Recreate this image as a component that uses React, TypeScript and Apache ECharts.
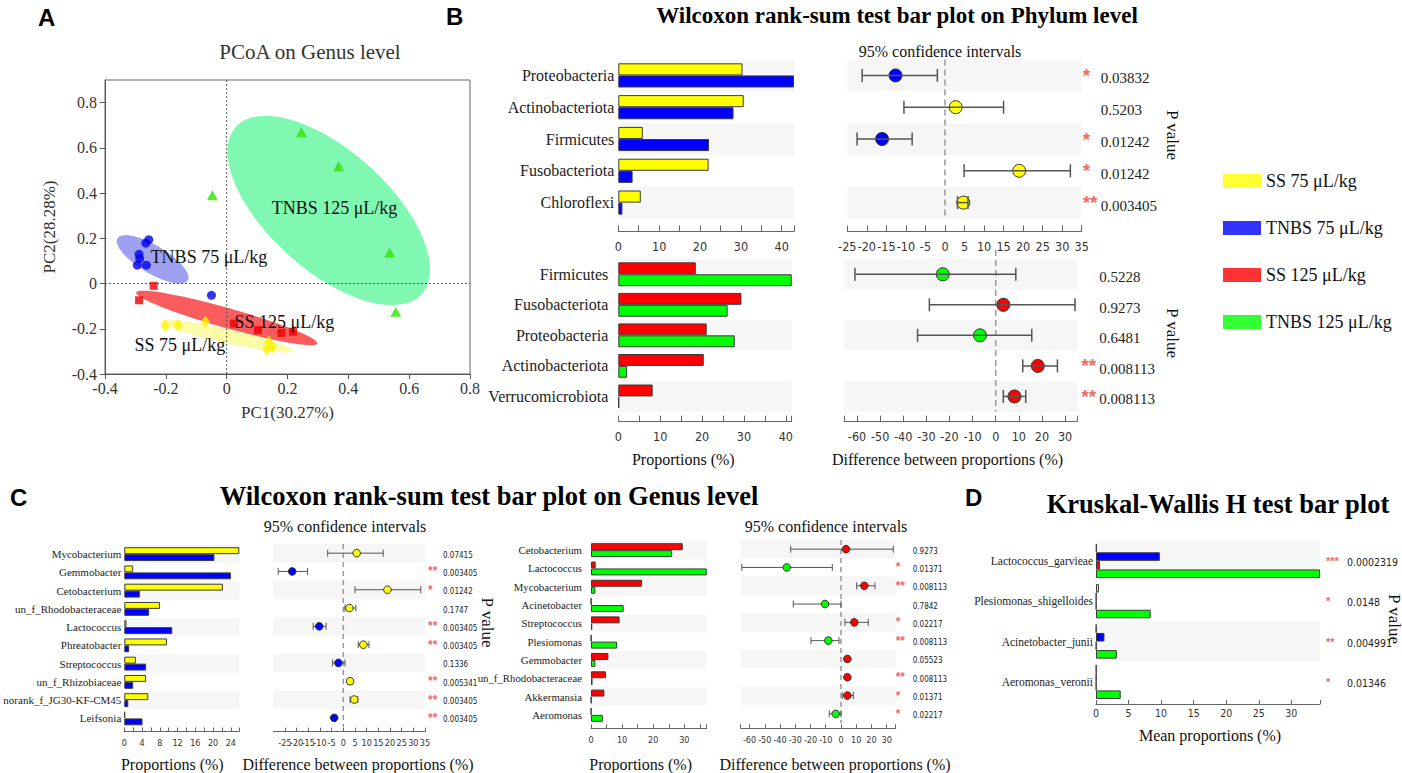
import React, { useEffect, useRef } from "react";
import * as echarts from "echarts";

const GROUPS = ["SS 75 μL/kg", "TNBS 75 μL/kg", "SS 125 μL/kg", "TNBS 125 μL/kg"];
const BAR_COLORS = ["#FFFF00", "#0000FF", "#FF0000", "#00FF00"];
const POINT_COLORS = ["#FFF200", "#0000EE", "#EE0000", "#2EE600"];
const ELLIPSE_COLORS = ["#FCFCA8", "#A0A0F2", "#F95C5C", "#80F8B2"];
const STAR_COLOR = "#F06A6A";
const BAND = "#F6F6F6";
const SERIF = "'Liberation Serif', 'Times New Roman', 'DejaVu Serif', serif";
const SANS = "'Liberation Sans', Arial, 'DejaVu Sans', sans-serif";
const NARROW = "'Liberation Sans Narrow', 'Arial Narrow', 'DejaVu Sans Condensed', 'Liberation Sans', sans-serif";

// ---------- Panel A: PCoA ----------
const pcoaSS75 = [[-0.202, -0.188], [-0.16, -0.184], [-0.07, -0.169], [0.139, -0.258], [0.131, -0.29], [0.15, -0.282]];
const pcoaTNBS75 = [[-0.256, 0.194], [-0.266, 0.179], [-0.288, 0.129], [-0.286, 0.11], [-0.294, 0.081], [-0.264, 0.081], [-0.05, -0.052]];
const pcoaSS125 = [[-0.24, -0.01], [-0.288, -0.074], [0.024, -0.177], [0.103, -0.206], [0.18, -0.218], [0.218, -0.213]];
const pcoaTNBS125 = [[0.246, 0.669], [0.368, 0.519], [0.536, 0.137], [0.556, -0.125], [-0.047, 0.39]];
// ellipse: centre x, centre y, semi-axis U (x,y), semi-axis V (x,y), group
const ellipseTNBS125 = [0.3355, 0.323, 0.3056, -0.369, -0.132, -0.197, 3];
const ellipseTNBS75 = [-0.2434, 0.107, 0.1155, -0.0931, -0.0237, -0.0529, 1];
const ellipseSS125 = [0, -0.152, 0.2974, -0.1129, -0.0089, -0.0424, 2];
const ellipseSS75 = [0, -0.232, 0.2181, -0.0659, -0.0051, -0.0301, 0];
const pcoaLabelText = ["TNBS 125 μL/kg", "TNBS 75 μL/kg", "SS 125 μL/kg", "SS 75 μL/kg"];
const pcoaLabelPos = [[0.148, 0.332], [-0.25, 0.116], [0.026, -0.171], [-0.303, -0.272]];
const pcoaTicksX = [-0.4, -0.2, 0, 0.2, 0.4, 0.6, 0.8];
const pcoaTicksY = [-0.4, -0.2, 0, 0.2, 0.4, 0.6, 0.8];

// ---------- Panel B: phylum ----------
const phylaTop = ["Proteobacteria", "Actinobacteriota", "Firmicutes", "Fusobacteriota", "Chloroflexi"];
const phylaTopSS75 = [30.4, 30.7, 6.0, 22.1, 5.5];
const phylaTopTNBS75 = [43.0, 28.2, 22.2, 3.5, 1.0];
const phylaTopDiff = [-12.65, 2.75, -16.1, 19.0, 4.7];
const phylaTopLow = [-21.2, -10.5, -22.5, 4.9, 3.2];
const phylaTopHigh = [-1.95, 15.0, -8.4, 32.1, 5.9];
const phylaTopP = ["0.03832", "0.5203", "0.01242", "0.01242", "0.003405"];
const phylaTopSig = ["*", "", "*", "*", "**"];

const phylaBot = ["Firmicutes", "Fusobacteriota", "Proteobacteria", "Actinobacteriota", "Verrucomicrobiota"];
const phylaBotSS125 = [18.5, 29.4, 21.1, 20.4, 8.2];
const phylaBotTNBS125 = [41.4, 26.1, 27.8, 2.1, 0.2];
const phylaBotDiff = [-22.9, 3.3, -6.8, 18.2, 8.1];
const phylaBotLow = [-60.9, -28.7, -33.8, 11.7, 3.3];
const phylaBotHigh = [8.7, 34.3, 15.6, 26.7, 13.0];
const phylaBotP = ["0.5228", "0.9273", "0.6481", "0.008113", "0.008113"];
const phylaBotSig = ["", "", "", "**", "**"];

// ---------- Panel C: genus ----------
const genusL = ["Mycobacterium", "Gemmobacter", "Cetobacterium", "un_f_Rhodobacteraceae", "Lactococcus", "Phreatobacter", "Streptococcus", "un_f_Rhizobiaceae", "norank_f_JG30-KF-CM45", "Leifsonia"];
const genusLSS75 = [25.9, 2.0, 22.2, 8.05, 0.5, 9.6, 2.6, 4.9, 5.4, 0.15];
const genusLTNBS75 = [20.3, 24.0, 3.5, 5.6, 10.8, 1.1, 4.9, 2.0, 0.9, 4.1];
const genusLDiff = [5.7, -21.9, 18.9, 2.6, -10.3, 8.6, -2.1, 2.9, 4.7, -3.9];
const genusLLow = [-6.7, -27.9, 5.0, 0.7, -12.9, 6.4, -4.6, 1.9, 2.9, -4.5];
const genusLHigh = [17.1, -15.3, 33.2, 5.4, -7.4, 11.0, 0.7, 4.0, 6.2, -3.3];
const genusLP = ["0.07415", "0.003405", "0.01242", "0.1747", "0.003405", "0.003405", "0.1336", "0.005341", "0.003405", "0.003405"];
const genusLSig = ["", "**", "*", "", "**", "**", "", "**", "**", "**"];

const genusR = ["Cetobacterium", "Lactococcus", "Mycobacterium", "Acinetobacter", "Streptococcus", "Plesiomonas", "Gemmobacter", "un_f_Rhodobacteraceae", "Akkermansia", "Aeromonas"];
const genusRSS125 = [29.5, 1.5, 16.4, 0.1, 9.2, 0.1, 5.6, 4.8, 4.3, 0.05];
const genusRTNBS125 = [26.1, 37.2, 1.4, 10.5, 0.4, 8.4, 1.4, 0.5, 0.1, 3.8];
const genusRDiff = [3.3, -35.6, 15.3, -10.5, 8.7, -8.3, 4.2, 4.2, 4.2, -3.5];
const genusRLow = [-33.0, -65.1, 10.3, -31.3, 2.6, -19.7, 3.5, 3.6, 0.9, -7.7];
const genusRHigh = [34.3, -5.7, 22.3, 0.0, 17.9, -1.3, 5.0, 4.9, 8.1, 0.0];
const genusRP = ["0.9273", "0.01371", "0.008113", "0.7842", "0.02217", "0.008113", "0.05523", "0.008113", "0.01371", "0.02217"];
const genusRSig = ["", "*", "**", "", "*", "**", "", "**", "*", "*"];

// ---------- Panel D: Kruskal-Wallis ----------
const speciesD = ["Lactococcus_garvieae", "Plesiomonas_shigelloides", "Acinetobacter_junii", "Aeromonas_veronii"];
const dSS75 = [0.1, 0.45, 0.05, 0.05];
const dTNBS75 = [9.8, 0.05, 1.3, 0.05];
const dSS125 = [0.6, 0.05, 0.05, 0.05];
const dTNBS125 = [34.4, 8.4, 3.2, 3.8];
const dP = ["0.0002319", "0.0148", "0.004991", "0.01346"];
const dSig = ["***", "*", "**", "*"];

// ---------- tick lists ----------
const tBTopBar = [0, 5, 10, 15, 20, 25, 30, 35, 40, 43];
const lBTopBar = [0, 10, 20, 30, 40];
const tBBotBar = [0, 5, 10, 15, 20, 25, 30, 35, 40, 41.4];
const lBBotBar = [0, 10, 20, 30, 40];
const tBTopCI = [-25, -20, -15, -10, -5, 0, 5, 10, 15, 20, 25, 30, 35];
const tBBotCI = [-65.5, -60, -50, -40, -30, -20, -10, 0, 10, 20, 30, 35.3];
const lBBotCI = [-60, -50, -40, -30, -20, -10, 0, 10, 20, 30];
const tCLBar = [0, 2, 4, 6, 8, 10, 12, 14, 16, 18, 20, 22, 24, 25.9];
const lCLBar = [0, 4, 8, 12, 16, 20, 24];
const tCLCI = [-30, -25, -20, -15, -10, -5, 0, 5, 10, 15, 20, 25, 30, 35];
const tCRBar = [0, 5, 10, 15, 20, 25, 30, 35, 37.2];
const lCRBar = [0, 10, 20, 30];
const tCRCI = [-65.8, -60, -50, -40, -30, -20, -10, 0, 10, 20, 30, 35.9];
const lCRCI = [-60, -50, -40, -30, -20, -10, 0, 10, 20, 30];
const tDBar = [0, 5, 10, 15, 20, 25, 30, 34.4];
const lDBar = [0, 5, 10, 15, 20, 25, 30];

function buildOption() {
  const grid: any[] = [];
  const xAxis: any[] = [];
  const yAxis: any[] = [];
  const series: any[] = [];
  const graphic: any[] = [];

  const txt = (x: number, y: number, text: string, size: number, family: string, extra: any = {}) => {
    graphic.push({
      type: "text",
      x,
      y,
      rotation: extra.rotation || 0,
      silent: true,
      style: {
        text,
        fontSize: size,
        fontFamily: family,
        fontWeight: extra.bold ? "bold" : "normal",
        fill: extra.color || "#111",
        align: extra.align || "center",
        verticalAlign: "middle",
      },
    });
  };

  // ===== Panel A =====
  grid.push({ left: 105, top: 80, width: 365, height: 294, show: true, borderColor: "#666", borderWidth: 1, containLabel: false, outerBoundsMode: "none" });
  const fmt1 = (v: number) => String(Math.round(v * 10) / 10);
  xAxis.push({
    type: "value", gridIndex: 0, min: -0.4, max: 0.8, position: "bottom",
    axisLine: { show: true, onZero: false, lineStyle: { color: "#555" } },
    axisTick: { show: true, length: 5, customValues: pcoaTicksX, lineStyle: { color: "#555" } },
    axisLabel: { customValues: pcoaTicksX, formatter: fmt1, fontFamily: SERIF, fontSize: 16, color: "#333", margin: 6 },
    splitLine: { show: false },
    name: "PC1(30.27%)", nameLocation: "middle", nameGap: 30,
    nameTextStyle: { fontFamily: SERIF, fontSize: 17, color: "#333" },
  });
  yAxis.push({
    type: "value", gridIndex: 0, min: -0.4, max: 0.9,
    axisLine: { show: true, onZero: false, lineStyle: { color: "#555" } },
    axisTick: { show: true, length: 5, customValues: pcoaTicksY, lineStyle: { color: "#555" } },
    axisLabel: { customValues: pcoaTicksY, formatter: fmt1, fontFamily: SERIF, fontSize: 16, color: "#333", margin: 8 },
    splitLine: { show: false },
    name: "PC2(28.28%)", nameLocation: "middle", nameGap: 47, nameRotate: 90,
    nameTextStyle: { fontFamily: SERIF, fontSize: 17, color: "#333" },
  });
  const ellipses = [ellipseTNBS125, ellipseTNBS75, ellipseSS125, ellipseSS75];
  series.push({
    type: "custom", xAxisIndex: 0, yAxisIndex: 0, silent: true, z: 1,
    data: ellipses.map((e) => [e[0], e[1]]),
    encode: { x: 0, y: 1 },
    renderItem: (params: any, api: any) => {
      const e = ellipses[params.dataIndex];
      const pts: number[][] = [];
      for (let k = 0; k < 120; k++) {
        const t = (k / 120) * Math.PI * 2;
        pts.push(api.coord([e[0] + e[2] * Math.cos(t) + e[4] * Math.sin(t), e[1] + e[3] * Math.cos(t) + e[5] * Math.sin(t)]));
      }
      return { type: "polygon", shape: { points: pts }, style: { fill: ELLIPSE_COLORS[e[6]], stroke: "none" } };
    },
  });
  series.push({
    type: "custom", xAxisIndex: 0, yAxisIndex: 0, silent: true, z: 2,
    data: [[0, 0]], encode: { x: 0, y: 1 },
    renderItem: (params: any, api: any) => {
      const c = api.coord([0, 0]);
      const cs = params.coordSys;
      const st = { stroke: "#555", lineWidth: 1, lineDash: [2, 2] };
      return {
        type: "group",
        children: [
          { type: "line", shape: { x1: c[0], y1: cs.y, x2: c[0], y2: cs.y + cs.height }, style: st },
          { type: "line", shape: { x1: cs.x, y1: c[1], x2: cs.x + cs.width, y2: c[1] }, style: st },
        ],
      };
    },
  });
  const pcoaSets = [pcoaSS75, pcoaTNBS75, pcoaSS125, pcoaTNBS125];
  const symbols = ["diamond", "circle", "rect", "triangle"];
  const sizes: any[] = [[9, 13], 9, 8, [11, 10]];
  pcoaSets.forEach((d, g) => {
    series.push({
      type: "scatter", name: GROUPS[g], xAxisIndex: 0, yAxisIndex: 0, data: d, symbol: symbols[g], symbolSize: sizes[g],
      itemStyle: { color: POINT_COLORS[g] }, silent: true, z: 3,
    });
  });
  series.push({
    type: "custom", xAxisIndex: 0, yAxisIndex: 0, silent: true, z: 4,
    data: pcoaLabelPos, encode: { x: 0, y: 1 },
    renderItem: (params: any, api: any) => {
      const c = api.coord([api.value(0), api.value(1)]);
      return { type: "text", x: c[0], y: c[1], style: { text: pcoaLabelText[params.dataIndex], fontSize: 18, fontFamily: SERIF, fill: "#111", align: "left", verticalAlign: "middle" } };
    },
  });

  // ===== helpers =====
  const addBars = (p: any) => {
    const gi = grid.length;
    grid.push({ left: p.left, top: p.top, width: p.width, height: p.height, containLabel: false, outerBoundsMode: "none" });
    const xi = xAxis.length;
    xAxis.push({
      type: "value", gridIndex: gi, min: 0, max: p.max, position: "bottom", offset: p.offset,
      axisLine: { show: true, onZero: false, lineStyle: { color: "#666", width: 1 } },
      axisTick: { show: true, inside: true, length: p.tickLen, customValues: p.ticks, lineStyle: { color: "#666" } },
      axisLabel: { customValues: p.labels, fontFamily: NARROW, fontSize: p.tickFont, color: "#333", margin: p.labelMargin },
      splitLine: { show: false },
    });
    const yi = yAxis.length;
    yAxis.push({
      type: "category", gridIndex: gi, data: p.cats, inverse: true,
      axisLine: { show: false }, axisTick: { show: false },
      axisLabel: { interval: 0, fontFamily: SERIF, fontSize: p.catFont, color: "#222", margin: p.catMargin },
      splitArea: { show: true, interval: 0, areaStyle: { color: [BAND, "rgba(255,255,255,0)"] } },
      splitLine: { show: false },
    });
    p.groups.forEach((g: number, k: number) => {
      series.push({
        type: "bar", name: GROUPS[g], xAxisIndex: xi, yAxisIndex: yi, data: p.values[k], silent: true,
        barGap: "0%", barCategoryGap: p.catGap,
        itemStyle: { color: BAR_COLORS[g], borderColor: "#3a3a3a", borderWidth: 1 },
      });
    });
  };

  const addCI = (p: any) => {
    const gi = grid.length;
    grid.push({ left: p.left, top: p.top, width: p.width, height: p.height, containLabel: false, outerBoundsMode: "none" });
    const xi = xAxis.length;
    xAxis.push({
      type: "value", gridIndex: gi, min: p.min, max: p.max, position: "bottom", offset: p.offset,
      axisLine: { show: true, onZero: false, lineStyle: { color: "#666", width: 1 } },
      axisTick: { show: true, inside: true, length: p.tickLen, customValues: p.ticks, lineStyle: { color: "#666" } },
      axisLabel: { customValues: p.labels, fontFamily: NARROW, fontSize: p.tickFont, color: "#333", margin: p.labelMargin },
      splitLine: { show: false },
    });
    const yi = yAxis.length;
    yAxis.push({
      type: "category", gridIndex: gi, data: p.cats, inverse: true, position: "left",
      axisLine: { show: false }, axisTick: { show: false }, axisLabel: { show: false },
      splitArea: { show: true, interval: 0, areaStyle: { color: [BAND, "rgba(255,255,255,0)"] } },
      splitLine: { show: false },
    });
    yAxis.push({
      type: "category", gridIndex: gi, data: p.cats, inverse: true, position: "right",
      axisLine: { show: false }, axisTick: { show: false }, splitLine: { show: false },
      axisLabel: {
        interval: 0, margin: p.sMargin, align: "left",
        formatter: (_v: any, i: number) => `{s|${p.sig[i] || " "}}{p|${p.pval[i]}}`,
        rich: {
          s: { width: p.sWidth, fontSize: p.sigFont, fontWeight: "bold", color: STAR_COLOR, fontFamily: SANS, align: "left" },
          p: { fontSize: p.pFont, fontFamily: p.pFamily, color: "#222", align: "left", padding: [p.pDrop || 0, 0, 0, 0] },
        },
      },
    });
    series.push({
      type: "custom", xAxisIndex: xi, yAxisIndex: yi, silent: true, z: 2,
      data: [[0, 0]], encode: { x: 0, y: 1 },
      renderItem: (params: any, api: any) => {
        const c = api.coord([0, 0]);
        const cs = params.coordSys;
        return {
          type: "line",
          shape: { x1: c[0], y1: cs.y - (p.zeroExt || 0), x2: c[0], y2: cs.y + cs.height },
          style: { stroke: "#999", lineWidth: 1.5, lineDash: p.dash },
        };
      },
    });
    series.push({
      type: "custom", xAxisIndex: xi, yAxisIndex: yi, silent: true, z: 3,
      data: p.cats.map((_c: string, i: number) => [p.diff[i], p.low[i], p.high[i], i]),
      encode: { x: [0, 1, 2], y: 3 },
      renderItem: (_params: any, api: any) => {
        const yv = api.value(3);
        const pt = api.coord([api.value(0), yv]);
        const lo = api.coord([api.value(1), yv]);
        const hi = api.coord([api.value(2), yv]);
        const col = api.value(0) >= 0 ? p.colPos : p.colNeg;
        const h = p.cap;
        const ls = { stroke: "#555", lineWidth: p.lw };
        const circle = { type: "circle", shape: { cx: pt[0], cy: pt[1], r: p.r }, style: { fill: col, stroke: "#333", lineWidth: 1 } };
        const lines = [
          { type: "line", shape: { x1: lo[0], y1: lo[1], x2: hi[0], y2: hi[1] }, style: ls },
          { type: "line", shape: { x1: lo[0], y1: lo[1] - h, x2: lo[0], y2: lo[1] + h }, style: ls },
          { type: "line", shape: { x1: hi[0], y1: hi[1] - h, x2: hi[0], y2: hi[1] + h }, style: ls },
        ];
        return { type: "group", children: p.circleOnTop ? [...lines, circle] : [circle, ...lines] };
      },
    });
  };

  // ===== Panel B =====
  addBars({
    left: 618.3, top: 59.5, width: 175.7, height: 159, max: 43, offset: 13, tickLen: 6, ticks: tBTopBar, labels: lBTopBar,
    tickFont: 12.5, labelMargin: 8, cats: phylaTop, catFont: 16, catMargin: 4, groups: [0, 1],
    values: [phylaTopSS75, phylaTopTNBS75], catGap: "24%",
  });
  addCI({
    left: 847.3, top: 59.5, width: 234.4, height: 159, min: -25, max: 35, offset: 13, tickLen: 6, ticks: tBTopCI, labels: tBTopCI,
    tickFont: 12.5, labelMargin: 8, cats: phylaTop, diff: phylaTopDiff, low: phylaTopLow, high: phylaTopHigh,
    colPos: BAR_COLORS[0], colNeg: BAR_COLORS[1], sig: phylaTopSig, pval: phylaTopP, sMargin: 1, sWidth: 18, sigFont: 19,
    pFont: 15, pFamily: SERIF, pDrop: 6, r: 6.5, cap: 6.5, lw: 1.5, dash: [6, 4],
  });
  addBars({
    left: 618.3, top: 259, width: 173.4, height: 152.7, max: 41.4, offset: 10, tickLen: 6, ticks: tBBotBar, labels: lBBotBar,
    tickFont: 12.5, labelMargin: 8, cats: phylaBot, catFont: 16, catMargin: 10, groups: [2, 3],
    values: [phylaBotSS125, phylaBotTNBS125], catGap: "22%",
  });
  addCI({
    left: 844.3, top: 259, width: 233, height: 152.7, min: -65.5, max: 35.3, offset: 10, tickLen: 6, ticks: tBBotCI, labels: lBBotCI,
    tickFont: 12.5, labelMargin: 8, cats: phylaBot, diff: phylaBotDiff, low: phylaBotLow, high: phylaBotHigh,
    colPos: BAR_COLORS[2], colNeg: BAR_COLORS[3], sig: phylaBotSig, pval: phylaBotP, sMargin: 4, sWidth: 18, sigFont: 19,
    pFont: 15, pFamily: SERIF, pDrop: 6, r: 6.5, cap: 6.5, lw: 1.5, dash: [6, 4], zeroExt: 9,
  });

  // ===== Panel C =====
  addBars({
    left: 124.3, top: 545, width: 115, height: 182.5, max: 25.9, offset: 4, tickLen: 4, ticks: tCLBar, labels: lCLBar,
    tickFont: 9, labelMargin: 7, cats: genusL, catFont: 11, catMargin: 3, groups: [0, 1],
    values: [genusLSS75, genusLTNBS75], catGap: "24%",
  });
  addCI({
    left: 273.3, top: 544, width: 151.7, height: 183, min: -30, max: 35, offset: 4.7, tickLen: 4, ticks: tCLCI, labels: tCLCI,
    tickFont: 9, labelMargin: 7, cats: genusL, diff: genusLDiff, low: genusLLow, high: genusLHigh,
    colPos: BAR_COLORS[0], colNeg: BAR_COLORS[1], sig: genusLSig, pval: genusLP, sMargin: 3, sWidth: 15, sigFont: 12,
    pFont: 8, pFamily: NARROW, pDrop: 4, r: 3.8, cap: 3.5, lw: 1, dash: [5, 4], circleOnTop: true,
  });
  addBars({
    left: 591, top: 541, width: 115.7, height: 183, max: 37.2, offset: 4.3, tickLen: 4, ticks: tCRBar, labels: lCRBar,
    tickFont: 9, labelMargin: 7, cats: genusR, catFont: 10.8, catMargin: 9, groups: [2, 3],
    values: [genusRSS125, genusRTNBS125], catGap: "24%",
  });
  addCI({
    left: 740.7, top: 540, width: 155, height: 183, min: -65.8, max: 35.9, offset: 5.3, tickLen: 4, ticks: tCRCI, labels: lCRCI,
    tickFont: 9, labelMargin: 7, cats: genusR, diff: genusRDiff, low: genusRLow, high: genusRHigh,
    colPos: BAR_COLORS[2], colNeg: BAR_COLORS[3], sig: genusRSig, pval: genusRP, sMargin: 0, sWidth: 17, sigFont: 12,
    pFont: 8, pFamily: NARROW, pDrop: 4, r: 3.8, cap: 3.5, lw: 1, dash: [5, 4], circleOnTop: true,
  });

  // ===== Panel D =====
  addBars({
    left: 1096, top: 540.7, width: 224, height: 161.3, max: 34.4, offset: 2, tickLen: 4, ticks: tDBar, labels: lDBar,
    tickFont: 10.5, labelMargin: 3, cats: speciesD, catFont: 11.5, catMargin: 3, groups: [0, 1, 2, 3],
    values: [dSS75, dTNBS75, dSS125, dTNBS125], catGap: "15%",
  });
  {
    const gi = grid.length - 1;
    yAxis.push({
      type: "category", gridIndex: gi, data: speciesD, inverse: true, position: "right",
      axisLine: { show: false }, axisTick: { show: false }, splitLine: { show: false },
      axisLabel: {
        interval: 0, margin: 6, align: "left",
        formatter: (_v: any, i: number) => `{s|${dSig[i]}}{p|${dP[i]}}`,
        rich: {
          s: { width: 21, fontSize: 11, fontWeight: "bold", color: STAR_COLOR, fontFamily: SANS, align: "left" },
          p: { fontSize: 10.5, fontFamily: NARROW, color: "#222", align: "left", padding: [2, 0, 0, 0] },
        },
      },
    });
  }

  // ===== texts =====
  txt(38, 17, "A", 24, SANS, { bold: true, align: "left", color: "#000" });
  txt(446, 16, "B", 24, SANS, { bold: true, align: "left", color: "#000" });
  txt(10, 497, "C", 24, SANS, { bold: true, align: "left", color: "#000" });
  txt(965, 497, "D", 24, SANS, { bold: true, align: "left", color: "#000" });
  txt(310, 52, "PCoA on Genus level", 21, SERIF, { color: "#333" });
  txt(897, 15, "Wilcoxon rank-sum test bar plot on Phylum level", 23, SERIF, { bold: true, color: "#000" });
  txt(489, 496, "Wilcoxon rank-sum test bar plot on Genus level", 26.5, SERIF, { bold: true, color: "#000" });
  txt(1218, 504, "Kruskal-Wallis H test bar plot", 26.5, SERIF, { bold: true, color: "#000" });
  txt(940, 51, "95% confidence intervals", 16, SERIF);
  txt(345, 526, "95% confidence intervals", 16, SERIF);
  txt(826, 526, "95% confidence intervals", 16, SERIF);
  txt(1172, 135, "P value", 17, SERIF, { rotation: -Math.PI / 2 });
  txt(1172, 333, "P value", 17, SERIF, { rotation: -Math.PI / 2 });
  txt(487, 622.5, "P value", 17, SERIF, { rotation: -Math.PI / 2 });
  txt(1394, 619, "P value", 17, SERIF, { rotation: -Math.PI / 2 });
  txt(683.3, 459, "Proportions (%)", 16, SERIF);
  txt(947.5, 459, "Difference between proportions (%)", 16, SERIF);
  txt(172.3, 764.5, "Proportions (%)", 16, SERIF);
  txt(358, 764.5, "Difference between proportions (%)", 16, SERIF);
  txt(640.7, 764.5, "Proportions (%)", 16, SERIF);
  txt(835, 764.5, "Difference between proportions (%)", 16, SERIF);
  txt(1210, 735, "Mean proportions (%)", 16, SERIF);

  return {
    animation: false,
    backgroundColor: "#fff",
    grid,
    xAxis,
    yAxis,
    series,
    graphic,
    legend: {
      data: GROUPS.map((n, i) => ({ name: n, icon: "rect", itemStyle: { color: BAR_COLORS[i], borderWidth: 0 } })),
      orient: "vertical",
      left: 1218,
      top: 167,
      itemWidth: 38,
      itemHeight: 14,
      itemGap: 29,
      selectedMode: false,
      textStyle: { fontFamily: SERIF, fontSize: 18, color: "#111" },
    },
  };
}

export default function App() {
  const ref = useRef<HTMLDivElement>(null);
  useEffect(() => {
    if (!ref.current) return;
    const chart = echarts.init(ref.current, undefined, { renderer: "svg", width: 1402, height: 773 });
    chart.setOption(buildOption() as any);
    return () => chart.dispose();
  }, []);
  return <div ref={ref} style={{ position: "fixed", left: 0, top: 0, width: 1402, height: 773, background: "#fff" }} />;
}
